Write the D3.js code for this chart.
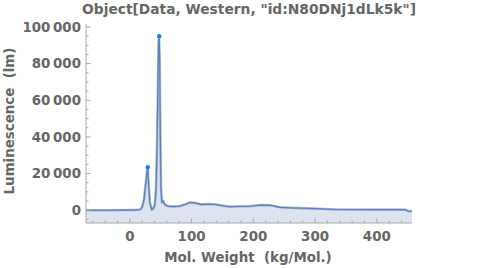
<!doctype html>
<html>
  <head>
    <script src="https://cdnjs.cloudflare.com/ajax/libs/d3/7.8.5/d3.min.js"></script>
    <style>
      body { margin: 0; background: #fff; }
      text { font-family: "DejaVu Sans", sans-serif; font-weight: bold; fill: #666; white-space: pre; }
    </style>
  </head>
  <body>
    <svg id="chart" width="500" height="268"></svg>
    <script>
        // molecular weight (kg/Mol.) and luminescence (lm)
        var molWeight = [-71, -40, 0, 10, 17, 20, 23, 25.5, 27.5, 29, 30.5, 32.5, 35.5, 38, 40.5, 42.5, 44, 45.5, 46.5, 47.5, 48.5, 49.5, 50.5, 52, 54, 56, 58, 62, 70, 81, 90, 97, 105, 116, 126, 138, 150, 162, 175, 195, 212, 227, 243, 260, 276, 300, 332, 400, 446, 451, 457];
        var luminescence = [0, 0, 100, 150, 400, 1800, 6000, 14000, 20000, 23500, 14000, 4000, 400, 900, 3000, 12000, 35000, 70000, 92000, 95000, 80000, 40000, 12000, 4500, 5000, 3500, 2800, 2200, 2000, 2200, 3200, 4200, 4000, 3100, 3300, 3200, 2500, 1900, 2100, 2200, 2800, 2700, 1600, 1300, 1100, 900, 400, 300, 300, -500, -500];
        var peakWeight = [29, 47.5];
        var peakLum = [23500, 95000];
        var xTicks = [0, 100, 200, 300, 400];
        var yTicks = [0, 20000, 40000, 60000, 80000, 100000];

        var svg = d3.select("#chart");
        var data = molWeight.map((m, i) => ({x: m, y: luminescence[i]}));

        var x = d3.scaleLinear().domain([-71, 457]).range([86, 412]);
        var y = d3.scaleLinear().domain([-7000, 100000]).range([223, 27]);

        var fmt = v => d3.format(",")(v).replace(/,/g, "\u2009");

        // fill under the trace, down to the frame bottom
        svg.append("path")
            .datum(data)
            .attr("d", d3.area().x(d => x(d.x)).y0(y(-7000)).y1(d => y(d.y)))
            .style("fill", "rgb(221,228,240)");

        var line = d3.line().x(d => x(d.x)).y(d => y(d.y));
        svg.append("path")
            .datum(data)
            .attr("d", line)
            .style("fill", "none")
            .style("stroke", "rgba(94,129,181,0.45)")
            .style("stroke-width", 2.6);
        svg.append("path")
            .datum(data)
            .attr("d", line)
            .style("fill", "none")
            .style("stroke", "rgb(94,129,181)")
            .style("stroke-width", 1.3);

        svg.selectAll("circle.peak")
            .data(peakWeight)
            .enter()
            .append("circle")
                .attr("class", "peak")
                .attr("cx", d => x(d))
                .attr("cy", (d, i) => y(peakLum[i]))
                .attr("r", 2.2)
                .style("fill", "rgb(10,128,255)");

        // y axis
        var yAxis = svg.append("g").attr("transform", "translate(86,0)");
        yAxis.append("line").attr("y1", 24).attr("y2", 223).style("stroke", "#aaa");
        yAxis.selectAll("line.minor")
            .data(d3.range(-5000, 100001, 5000))
            .enter()
            .append("line")
                .attr("y1", d => y(d)).attr("y2", d => y(d))
                .attr("x2", d => d % 20000 === 0 ? 4.5 : 2.5)
                .style("stroke", "#aaa");
        yAxis.selectAll("text")
            .data(yTicks)
            .enter()
            .append("text")
                .attr("x", -5)
                .attr("y", d => y(d))
                .attr("dy", "0.36em")
                .attr("text-anchor", "end")
                .style("font-size", "13.4px")
                .text(fmt);

        // x axis
        var xAxis = svg.append("g").attr("transform", "translate(0,223)");
        xAxis.append("line").attr("x1", 86).attr("x2", 412).style("stroke", "#aaa");
        xAxis.selectAll("line.minor")
            .data(d3.range(-60, 457, 20))
            .enter()
            .append("line")
                .attr("x1", d => x(d)).attr("x2", d => x(d))
                .attr("y2", d => d % 100 === 0 ? -4.5 : -2.5)
                .style("stroke", "#aaa");
        xAxis.selectAll("text")
            .data(xTicks)
            .enter()
            .append("text")
                .attr("x", d => x(d))
                .attr("y", 18)
                .attr("text-anchor", "middle")
                .style("font-size", "13.4px")
                .text(d => d);

        svg.append("text")
            .attr("x", 248).attr("y", 262)
            .attr("text-anchor", "middle")
            .style("font-size", "13.4px")
            .text("Mol. Weight  (kg/Mol.)");

        svg.append("text")
            .attr("transform", "translate(14,121) rotate(-90)")
            .attr("text-anchor", "middle")
            .style("font-size", "13.4px")
            .text("Luminescence  (lm)");

        svg.append("text")
            .attr("x", 249).attr("y", 14)
            .attr("text-anchor", "middle")
            .style("font-size", "13.8px")
            .text("Object[Data, Western, \"id:N80DNj1dLk5k\"]");
    </script>
  </body>
</html>
